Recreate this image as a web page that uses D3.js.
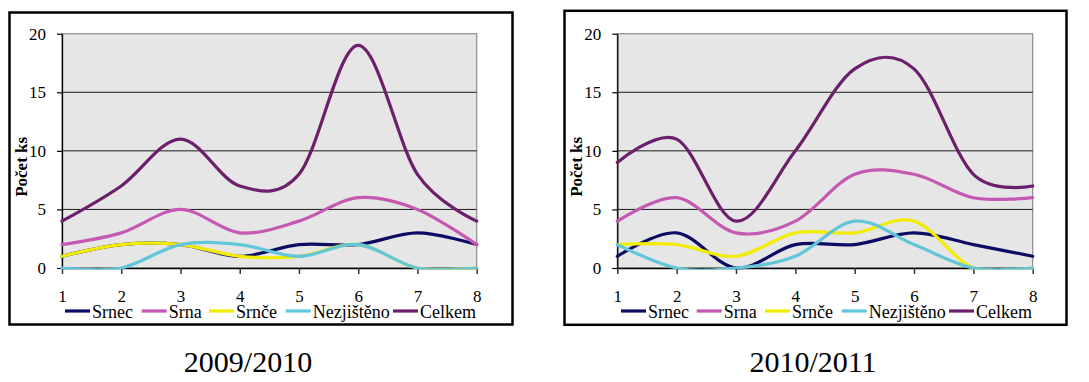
<!DOCTYPE html>
<html><head><meta charset="utf-8">
<script src="https://cdn.jsdelivr.net/npm/d3@7"></script>
</head><body style="margin:0">
<svg id="c" width="1089" height="382"></svg>
<script>
const categories = [1,2,3,4,5,6,7,8];
const seriesNames = ["Srnec","Srna","Srnče","Nezjištěno","Celkem"];
const yTicks = [0,5,10,15,20];
const titles = ["2009/2010","2010/2011"];
// 2009/2010
const srnec2009 = [1,2,2,1,2,2,3,2];
const srna2009 = [2,3,5,3,4,6,5,2];
const srnce2009 = [1,2,2,1,1,2,0,0];
const nezjisteno2009 = [0,0,2,2,1,2,0,0];
const celkem2009 = [4,7,11,7,8,19,8,4];
// 2010/2011
const srnec2010 = [1,3,0,2,2,3,2,1];
const srna2010 = [4,6,3,4,8,8,6,6];
const srnce2010 = [2,2,1,3,3,4,0,0];
const nezjisteno2010 = [2,0,0,1,4,2,0,0];
const celkem2010 = [9,11,4,10,17,17,8,7];

const colors = ["#0c0c64","#c458b2","#f2ec00","#62c6da","#6c1f6c"];
const FONT = '"Liberation Serif"';

const svg = d3.select("#c");
svg.append("rect").attr("width",1089).attr("height",382).attr("fill","#fff");

const panels = [
  {frame:[9.5,12.5,503,312], x0:62, x1:476.7, legendX:[65,141.7,209,285.7,393], title:titles[0], titleX:248,
   data:[srnec2009,srna2009,srnce2009,nezjisteno2009,celkem2009]},
  {frame:[564.5,10.8,502,314], x0:617.3, x1:1032.7, legendX:[621,696.7,765,841.7,949], title:titles[1], titleX:813,
   data:[srnec2010,srna2010,srnce2010,nezjisteno2010,celkem2010]}
];
const yTop = 33.7, yBot = 268;

panels.forEach((p,pi)=>{
  const g = svg.append("g");
  const [fx,fy,fw,fh] = p.frame;
  g.append("rect").attr("x",fx).attr("y",fy).attr("width",fw).attr("height",fh)
    .attr("fill","#fff").attr("stroke","#000").attr("stroke-width",2.5);
  const x = d3.scaleLinear().domain([1,8]).range([p.x0,p.x1]);
  const y = d3.scaleLinear().domain([0,20]).range([yBot,yTop]);
  g.append("rect").attr("x",p.x0).attr("y",yTop).attr("width",p.x1-p.x0).attr("height",yBot-yTop)
    .attr("fill","#e6e6e6").attr("stroke","#8a8a8a").attr("stroke-width",1.2);
  g.selectAll(".grid").data(yTicks.filter(d=>d>0&&d<20)).join("line")
    .attr("x1",p.x0).attr("x2",p.x1).attr("y1",d=>y(d)).attr("y2",d=>y(d))
    .attr("stroke","#1a1a1a").attr("stroke-width",1);
  const ya = g.append("g").attr("transform",`translate(${p.x0},0)`)
    .call(d3.axisLeft(y).tickValues(yTicks).tickSize(5).tickPadding(11).tickSizeOuter(0));
  ya.attr("font-family",FONT).attr("font-size",17);
  ya.select(".domain").attr("stroke","#000").attr("stroke-width",1.3);
  ya.selectAll(".tick line").attr("stroke","#000").attr("stroke-width",1.2);
  ya.selectAll("text").attr("fill","#000");
  const xa = g.append("g").attr("transform",`translate(0,${yBot})`)
    .call(d3.axisBottom(x).tickValues(categories).tickFormat(d3.format("d")).tickSize(6).tickPadding(0).tickSizeOuter(0));
  xa.attr("font-family",FONT).attr("font-size",17);
  xa.select(".domain").attr("stroke","#000").attr("stroke-width",1.5);
  xa.selectAll(".tick line").attr("stroke","#333").attr("stroke-width",1.5);
  xa.selectAll("text").attr("fill","#000").attr("dy",null).attr("y",34);
  g.append("text").attr("transform",`translate(${p.x0-35},${(yTop+yBot)/2+16}) rotate(-90)`)
    .attr("text-anchor","middle").attr("font-size",17).attr("font-weight","bold").attr("font-family",FONT).text("Počet ks");
  const cid = "clip"+pi;
  svg.append("defs").append("clipPath").attr("id",cid).append("rect")
    .attr("x",p.x0-3).attr("y",yTop-3).attr("width",p.x1-p.x0+6).attr("height",yBot-yTop+4.5);
  const line = d3.line().x((d,i)=>x(categories[i])).y(d=>y(d)).curve(d3.curveCatmullRom.alpha(0));
  const lg = g.append("g").attr("clip-path",`url(#${cid})`);
  p.data.forEach((s,si)=>{
    lg.append("path").attr("d",line(s)).attr("fill","none").attr("stroke",colors[si])
      .attr("stroke-width",3.2).attr("stroke-linejoin","round").attr("stroke-linecap","round");
  });
  const ly = 311;
  seriesNames.forEach((n,si)=>{
    const lx = p.legendX[si];
    g.append("line").attr("x1",lx).attr("x2",lx+25).attr("y1",ly).attr("y2",ly)
      .attr("stroke",colors[si]).attr("stroke-width",3.2);
    g.append("text").attr("x",lx+27).attr("y",ly+6.5).attr("font-size",18).attr("font-family",FONT).text(n);
  });
  svg.append("text").attr("x",p.titleX).attr("y",371.5).attr("text-anchor","middle")
    .attr("font-size",30).attr("font-family",FONT).text(p.title);
});
</script>
</body></html>
